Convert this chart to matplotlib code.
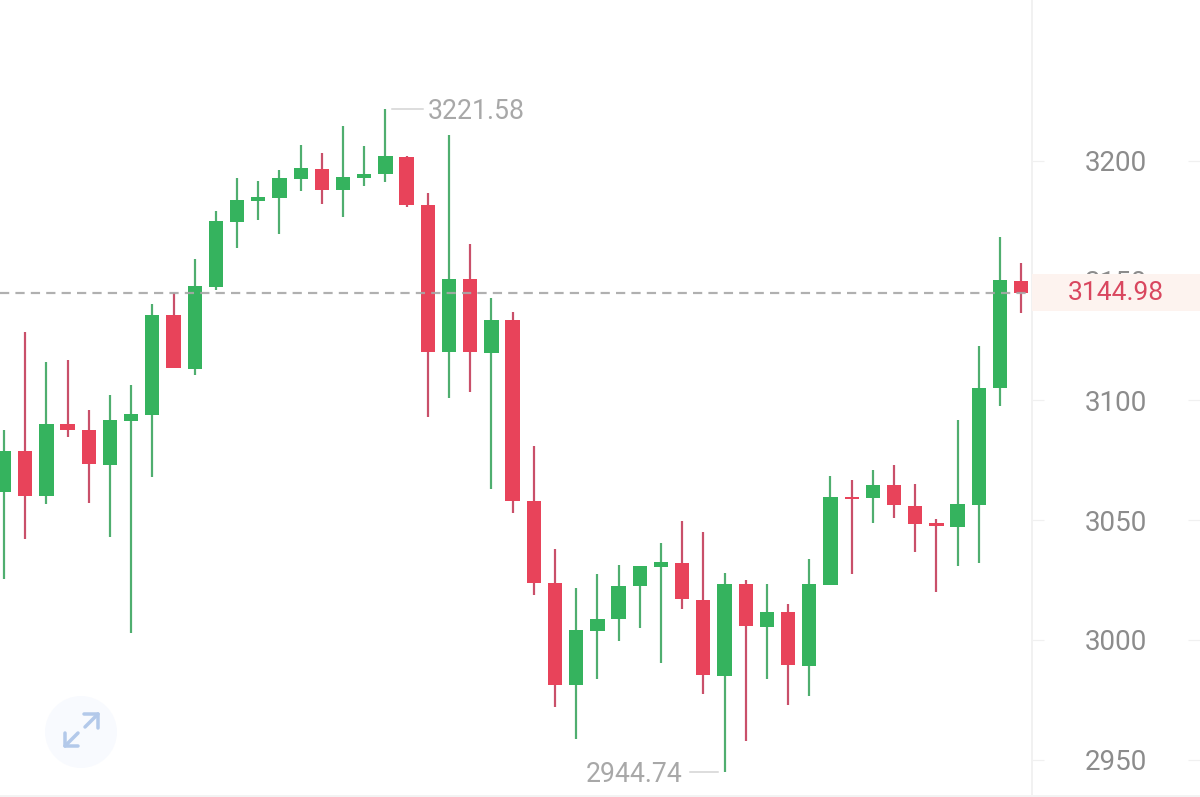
import numpy as np
import matplotlib
matplotlib.use("Agg")
import matplotlib.pyplot as plt
from matplotlib.patches import Circle

plt.rcParams['font.family'] = ['Roboto', 'DejaVu Sans']

# candle values: (green candle -> open below close, red candle -> open above close)
highs = [3087.7,3128.6,3116.1,3116.9,3096.0,3102.3,3106.5,3140.3,3144.9,3159.1,3179.1,3192.9,3191.6,3196.2,3206.7,3203.3,3214.6,3206.2,3221.58,3202.1,3186.6,3210.8,3165.3,3142.8,3136.9,3081.0,3038.0,3021.7,3027.5,3031.3,3030.9,3040.5,3049.7,3045.1,3028.0,3025.0,3023.4,3015.0,3033.8,3068.5,3066.8,3071.0,3073.0,3065.1,3050.5,3091.8,3122.7,3168.2,3157.4]
lows = [3025.4,3042.2,3056.8,3084.7,3057.2,3043.0,3002.9,3068.0,3113.5,3110.6,3146.1,3163.6,3175.3,3169.5,3187.5,3182.0,3176.6,3189.5,3191.2,3180.8,3093.1,3101.0,3103.5,3063.0,3053.0,3018.8,2972.0,2958.6,2983.7,2999.6,3005.0,2990.4,3012.9,2977.4,2944.74,2957.8,2983.7,2972.8,2976.6,3022.9,3027.5,3048.8,3050.9,3036.7,3020.0,3030.9,3032.1,3097.7,3136.5]
opens = [3061.8,3078.9,3060.1,3090.2,3087.7,3073.0,3091.4,3093.9,3135.7,3113.1,3147.4,3174.5,3183.3,3184.5,3192.5,3196.6,3187.9,3192.9,3194.5,3201.6,3181.6,3120.2,3150.7,3119.8,3133.6,3058.0,3023.8,2981.2,3003.7,3008.7,3022.5,3030.5,3032.1,3016.7,2984.9,3023.4,3005.4,3011.7,2989.1,3022.9,3059.7,3059.3,3064.7,3055.9,3048.8,3047.2,3056.3,3105.2,3149.9]
closes = [3078.9,3060.1,3090.2,3087.7,3073.5,3091.8,3094.3,3135.7,3113.5,3147.8,3174.9,3183.7,3184.9,3192.9,3197.1,3187.9,3193.3,3194.5,3202.1,3181.6,3120.2,3150.7,3120.2,3133.6,3058.0,3023.8,2981.2,3004.2,3008.7,3022.5,3030.9,3032.5,3017.1,2985.4,3023.4,3005.8,3011.7,2989.5,3023.4,3059.7,3058.9,3064.7,3056.3,3048.4,3047.6,3056.8,3105.2,3150.3,3144.98]

price_ticks = [2950, 3000, 3050, 3100, 3150, 3200]
last_price = 3144.98
max_label, max_value, max_index = "3221.58", 3221.58, 18
min_label, min_value, min_index = "2944.74", 2944.74, 34

W, H = 1200, 797
GREEN, RED = "#35b35e", "#e8435a"
GREEN_W, RED_W = "#4fae6f", "#c9506a"
GREY_LINE = "#f1f1f1"

def px(v):
    return v * 72 / 100

fig = plt.figure(figsize=(W / 100, H / 100), dpi=100, facecolor="white")
ax = fig.add_axes([0, 0, 1032 / W, 1])
ax.set_xlim(-0.189, 48.51)
ax.set_ylim(2934.4, 3267.2)
for s in ax.spines.values():
    s.set_visible(False)

o, c, hi, lo = map(np.array, (opens, closes, highs, lows))
x = np.arange(len(o))
up = c >= o
ax.vlines(x, lo, hi, colors=[GREEN_W if u else RED_W for u in up], linewidth=px(2.2), zorder=2)
ax.bar(x, np.abs(c - o), bottom=np.minimum(o, c), width=0.675,
       color=[GREEN if u else RED for u in up], linewidth=0, zorder=3)

ax.axhline(last_price, color="#a8a8a8", lw=px(2.2), dashes=(4.2, 2.8), zorder=4, alpha=0.9)

# high / low markers
ax.plot([max_index + 0.3, max_index + 1.77], [max_value, max_value], color="#d2d2d2", lw=px(1.5), zorder=2)
ax.annotate(max_label, (max_index + 2.0, max_value), xytext=(0, px(-2.5)), textcoords="offset points",
            color="#a8a8a8", fontsize=19.2, va="center", ha="left")
ax.plot([min_index - 0.3, min_index - 1.62], [min_value, min_value], color="#d2d2d2", lw=px(1.5), zorder=2)
ax.annotate(min_label, (min_index - 2.0, min_value), xytext=(0, px(-2)), textcoords="offset points",
            color="#a8a8a8", fontsize=19.2, va="center", ha="right")

# right price panel
ax2 = fig.add_axes([1032 / W, 0, 168 / W, 1], sharey=ax)
ax2.set_xlim(0, 168)
ax2.set_facecolor("white")
ax2.set_axisbelow(True)
for s in ax2.spines.values():
    s.set_visible(False)
ax2.spines['left'].set_visible(True)
ax2.spines['left'].set_color(GREY_LINE)
ax2.spines['left'].set_linewidth(px(2))
ax2.set_xticks([])
ax2.set_yticks(price_ticks)
ax2.set_yticklabels([str(t) for t in price_ticks])
ax2.tick_params(axis='y', which='both', left=True, right=True, labelleft=False, labelright=True,
                direction='in', length=px(12), width=px(1.2), color="#f0f0f0",
                pad=px(-115), labelsize=20, labelcolor="#8c8c8c")
ax.tick_params(axis='both', which='both', left=False, right=False, bottom=False, top=False,
               labelleft=False, labelright=False, labelbottom=False, labeltop=False)
ax2.axhspan(last_price - 7.8, last_price + 7.8, facecolor="#fdf3ef", edgecolor="none", zorder=3)
ax2.text(84, last_price, f"{last_price:.2f}", color="#d9475f", fontsize=19, ha="center",
         va="center", zorder=4)

# overlay in pixel coordinates for interface details
ov = fig.add_axes([0, 0, 1, 1], facecolor="none")
ov.set_xlim(0, W)
ov.set_ylim(H, 0)
ov.axis("off")
ov.plot([0, W], [796, 796], color="#f3f3f3", lw=px(2))
ov.add_patch(Circle((81, 732), 36, facecolor="#f8fafe", edgecolor="none"))
icon = "#b3c9ea"
for xs, ys in [([85, 98], [727, 714]), ([84, 98, 98], [714, 714, 728]),
               ([78, 65], [733, 746]), ([65, 65, 78], [733, 746, 746])]:
    ov.plot(xs, ys, color=icon, lw=px(3.5), solid_capstyle="round", solid_joinstyle="round")

fig.savefig("out.png", dpi=100)
